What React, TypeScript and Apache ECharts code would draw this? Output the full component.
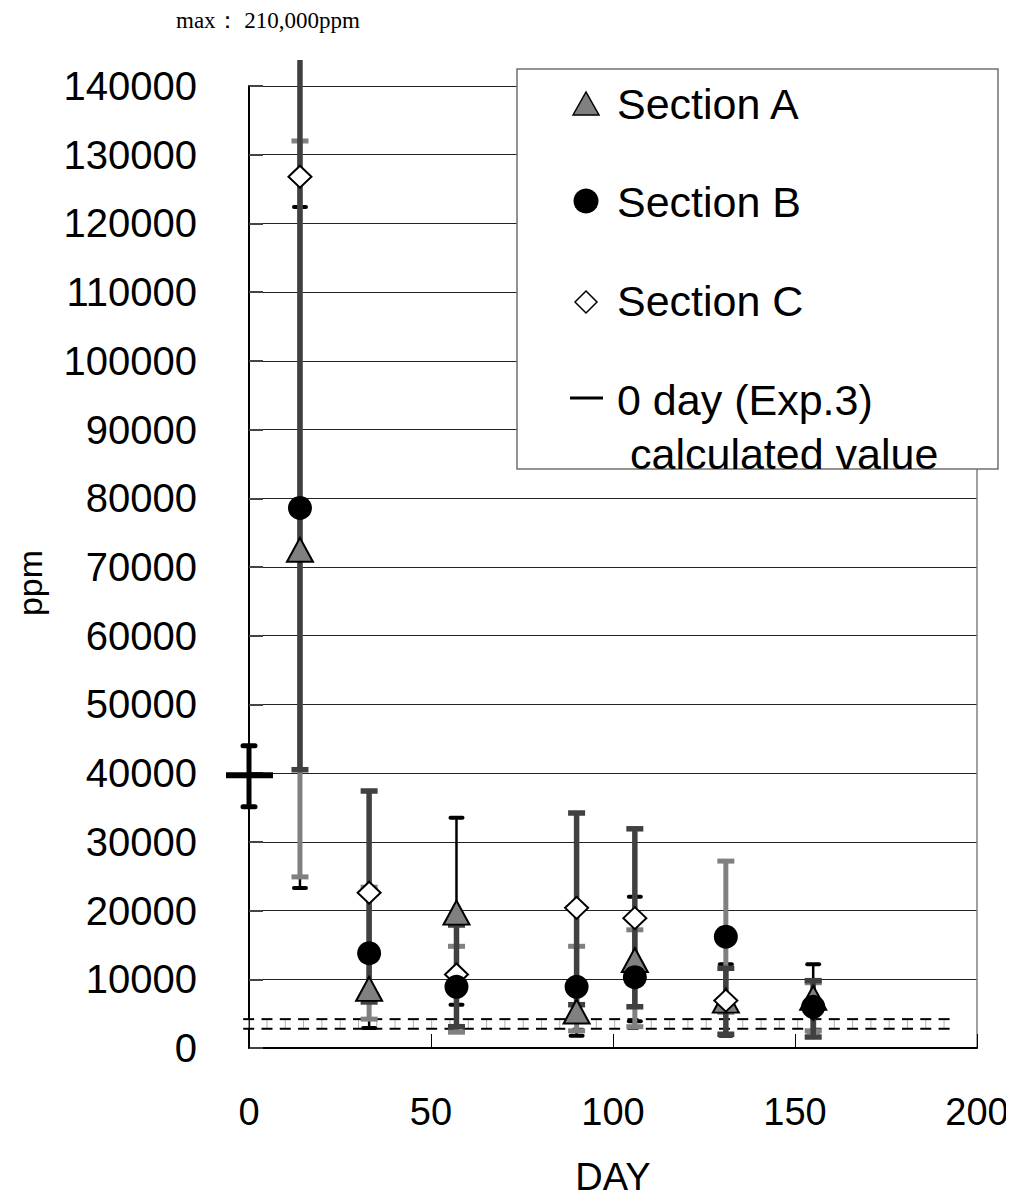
import React, { useEffect, useRef } from "react";
import * as echarts from "echarts";

// ---- data ----
const days = [14, 33, 57, 90, 106, 131, 155];

const sectionA = [72500, 8600, 19700, 5300, 12800, 6900, 7300];
const sectionALow = [23300, 2900, 6300, 1800, 3900, 1800, 2400];
const sectionAHigh = [122400, 14100, 33500, 8800, 22000, 12200, 12200];

const sectionB = [78600, 13800, 8900, 8900, 10300, 16200, 6000];
const sectionBLow = [24900, 4200, 2300, 2500, 3100, 5200, 2500];
const sectionBHigh = [132000, 23400, 14800, 14800, 17200, 27200, 9500];

const sectionC = [126800, 22600, 10700, 20400, 18900, 6900, 5700];
const sectionCLow = [40500, 6700, 3100, 6300, 6000, 2000, 1600];
const sectionCHigh = [210000, 37400, 17900, 34200, 31900, 11600, 9800];

const day0Day = [0];
const day0Value = [39700];
const day0Low = [35100];
const day0High = [44000];

const limitLines = [4200, 2800];
const limitRange = [-1.6, 197];

const yMax = 140000;
const yInterval = 10000;
const xMax = 200;
const xInterval = 50;

const FONT = "Liberation Sans";

function errRender(color: string, lw: number, capW: number, capLw: number, round: boolean) {
  return (params: any, api: any) => {
    const x = api.value(0);
    const lo = api.value(1);
    const hi = api.value(2);
    const pLo = api.coord([x, lo]);
    const pHi = api.coord([x, hi]);
    const cs = params.coordSys;
    const topLimit = cs.y - 26;
    let hiY = pHi[1];
    let clipped = false;
    if (hiY < topLimit) {
      hiY = topLimit;
      clipped = true;
    }
    const cap = round ? "round" : "butt";
    const children: any[] = [
      {
        type: "line",
        shape: { x1: pLo[0], y1: pLo[1], x2: pLo[0], y2: hiY },
        style: { stroke: color, lineWidth: lw },
      },
      {
        type: "line",
        shape: { x1: pLo[0] - capW / 2, y1: pLo[1], x2: pLo[0] + capW / 2, y2: pLo[1] },
        style: { stroke: color, lineWidth: capLw, lineCap: cap },
      },
    ];
    if (!clipped) {
      children.push({
        type: "line",
        shape: { x1: pLo[0] - capW / 2, y1: hiY, x2: pLo[0] + capW / 2, y2: hiY },
        style: { stroke: color, lineWidth: capLw, lineCap: cap },
      });
    }
    return { type: "group", children };
  };
}

function crossRender(params: any, api: any) {
  const x = api.value(0);
  const v = api.value(1);
  const lo = api.value(2);
  const hi = api.value(3);
  const pV = api.coord([x, v]);
  const pLo = api.coord([x, lo]);
  const pHi = api.coord([x, hi]);
  return {
    type: "group",
    children: [
      { type: "line", shape: { x1: pV[0], y1: pLo[1], x2: pV[0], y2: pHi[1] }, style: { stroke: "#000", lineWidth: 5 } },
      { type: "line", shape: { x1: pV[0] - 6, y1: pLo[1], x2: pV[0] + 6, y2: pLo[1] }, style: { stroke: "#000", lineWidth: 5, lineCap: "round" } },
      { type: "line", shape: { x1: pV[0] - 6, y1: pHi[1], x2: pV[0] + 6, y2: pHi[1] }, style: { stroke: "#000", lineWidth: 5, lineCap: "round" } },
      { type: "line", shape: { x1: pV[0] - 23, y1: pV[1], x2: pV[0] + 24, y2: pV[1] }, style: { stroke: "#000", lineWidth: 6 } },
    ],
  };
}

function limitRender(params: any, api: any) {
  const x0 = api.value(0);
  const x1 = api.value(1);
  const y1 = api.value(2);
  const y2 = api.value(3);
  const a = api.coord([x0, y1]);
  const b = api.coord([x1, y1]);
  const c = api.coord([x0, y2]);
  const children: any[] = [];
  const step = 18.3;
  const dash = 11;
  for (let px = a[0]; px + dash <= b[0] + 1; px += step) {
    children.push({ type: "line", shape: { x1: px + dash / 2, y1: a[1], x2: px + dash / 2, y2: c[1] }, style: { stroke: "#b0b0b0", lineWidth: 1 } });
    children.push({ type: "line", shape: { x1: px, y1: a[1], x2: px + dash, y2: a[1] }, style: { stroke: "#000", lineWidth: 2 } });
    children.push({ type: "line", shape: { x1: px, y1: c[1], x2: px + dash, y2: c[1] }, style: { stroke: "#000", lineWidth: 2 } });
  }
  return { type: "group", children };
}

const toPairs = (xs: number[], ys: number[]) => xs.map((x, i) => [x, ys[i]]);
const toErr = (xs: number[], lo: number[], hi: number[]) => xs.map((x, i) => [x, lo[i], hi[i]]);

export default function App() {
  const ref = useRef<HTMLDivElement>(null);
  useEffect(() => {
    if (!ref.current) return;
    const chart = echarts.init(ref.current, undefined, { renderer: "svg" });
    const legendX = 517;
    const legendY = 69;
    const LZ = 100;
    const option: any = {
      animation: false,
      backgroundColor: "#fff",
      grid: { left: 249, right: 37, top: 86, bottom: 150, containLabel: false, outerBoundsMode: "none" },
      xAxis: {
        type: "value",
        min: 0,
        max: xMax,
        interval: xInterval,
        name: "DAY",
        nameLocation: "middle",
        nameGap: 110,
        nameTextStyle: { fontSize: 38, fontFamily: FONT, color: "#000" },
        axisLine: { lineStyle: { color: "#000", width: 2 } },
        axisTick: { inside: true, length: 14, lineStyle: { color: "#000", width: 1 } },
        axisLabel: { fontSize: 38, fontFamily: FONT, color: "#000", margin: 45 },
        splitLine: { show: false },
      },
      yAxis: [
        {
          type: "value",
          min: 0,
          max: yMax,
          interval: yInterval,
          axisLine: { lineStyle: { color: "#000", width: 2 } },
          axisTick: { inside: true, length: 14, lineStyle: { color: "#444", width: 2 } },
          axisLabel: {
            fontSize: 40,
            fontFamily: FONT,
            color: "#000",
            margin: 52,
            formatter: (v: number) => String(v),
          },
          splitLine: { show: true, lineStyle: { color: "#222", width: 1 } },
        },
        {
          type: "value",
          min: 0,
          max: yMax,
          interval: yInterval,
          position: "right",
          axisLine: { show: true, lineStyle: { color: "#808080", width: 1.5 } },
          axisTick: { show: false },
          axisLabel: { show: false },
          splitLine: { show: false },
        },
      ],
      series: [
        {
          type: "custom",
          name: "limits",
          coordinateSystem: "cartesian2d",
          clip: false,
          silent: true,
          renderItem: limitRender,
          data: [[limitRange[0], limitRange[1], limitLines[0], limitLines[1]]],
          encode: { x: [0, 1], y: [2, 3] },
          z: 1,
        },
        {
          type: "custom",
          name: "errA",
          coordinateSystem: "cartesian2d",
          clip: false,
          renderItem: errRender("#000", 2.5, 12, 4, true),
          data: toErr(days, sectionALow, sectionAHigh),
          encode: { x: 0, y: [1, 2] },
          z: 2,
        },
        {
          type: "custom",
          name: "errB",
          coordinateSystem: "cartesian2d",
          clip: false,
          renderItem: errRender("#808080", 5, 17, 5, false),
          data: toErr(days, sectionBLow, sectionBHigh),
          encode: { x: 0, y: [1, 2] },
          z: 3,
        },
        {
          type: "custom",
          name: "errC",
          coordinateSystem: "cartesian2d",
          clip: false,
          renderItem: errRender("#404040", 5.5, 17, 5.5, false),
          data: toErr(days, sectionCLow, sectionCHigh),
          encode: { x: 0, y: [1, 2] },
          z: 4,
        },
        {
          type: "custom",
          name: "0 day (Exp.3) calculated value",
          coordinateSystem: "cartesian2d",
          clip: false,
          renderItem: crossRender,
          data: day0Day.map((d, i) => [d, day0Value[i], day0Low[i], day0High[i]]),
          encode: { x: 0, y: [1, 2, 3] },
          z: 5,
        },
        {
          type: "scatter",
          name: "Section A",
          symbol: "triangle",
          symbolSize: [26, 24],
          clip: false,
          itemStyle: { color: "#808080", borderColor: "#000", borderWidth: 2, opacity: 1 },
          data: toPairs(days, sectionA),
          z: 6,
        },
        {
          type: "scatter",
          name: "Section C",
          symbol: "diamond",
          symbolSize: [23, 22],
          clip: false,
          itemStyle: { color: "#fff", borderColor: "#000", borderWidth: 2, opacity: 1 },
          data: toPairs(days, sectionC),
          z: 7,
        },
        {
          type: "scatter",
          name: "Section B",
          symbol: "circle",
          symbolSize: 24,
          clip: false,
          itemStyle: { color: "#000", opacity: 1 },
          data: toPairs(days, sectionB),
          z: 8,
        },
      ],
      graphic: [
        {
          type: "text",
          left: 176,
          top: 9,
          z: LZ,
          style: {
            text: "max： 210,000ppm",
            fontSize: 23,
            fontFamily: "Liberation Serif",
            fill: "#000",
          },
        },
        {
          type: "text",
          x: 30,
          y: 583,
          rotation: Math.PI / 2,
          z: LZ,
          style: {
            text: "ppm",
            fontSize: 34,
            fontFamily: FONT,
            fill: "#000",
            align: "center",
            verticalAlign: "middle",
          },
        },
        {
          type: "rect",
          z: LZ,
          shape: { x: legendX, y: legendY, width: 481, height: 400 },
          style: { fill: "#fff", stroke: "#707070", lineWidth: 1.5 },
        },
        {
          type: "polygon",
          z: LZ + 1,
          shape: { points: [[573, 115], [586, 92], [599, 115]] },
          style: { fill: "#808080", stroke: "#000", lineWidth: 1.5 },
        },
        {
          type: "text",
          z: LZ + 1,
          x: 617,
          y: 104,
          style: { text: "Section A", fontSize: 43, fontFamily: FONT, fill: "#000", verticalAlign: "middle" },
        },
        {
          type: "circle",
          z: LZ + 1,
          shape: { cx: 586, cy: 201, r: 12.5 },
          style: { fill: "#000" },
        },
        {
          type: "text",
          z: LZ + 1,
          x: 617,
          y: 202,
          style: { text: "Section B", fontSize: 43, fontFamily: FONT, fill: "#000", verticalAlign: "middle" },
        },
        {
          type: "polygon",
          z: LZ + 1,
          shape: { points: [[586, 291], [597, 302], [586, 313], [575, 302]] },
          style: { fill: "#fff", stroke: "#000", lineWidth: 1.5 },
        },
        {
          type: "text",
          z: LZ + 1,
          x: 617,
          y: 301,
          style: { text: "Section C", fontSize: 43, fontFamily: FONT, fill: "#000", verticalAlign: "middle" },
        },
        {
          type: "line",
          z: LZ + 1,
          shape: { x1: 570, y1: 398, x2: 603, y2: 398 },
          style: { stroke: "#000", lineWidth: 3 },
        },
        {
          type: "text",
          z: LZ + 1,
          x: 617,
          y: 400,
          style: { text: "0 day (Exp.3)", fontSize: 43, fontFamily: FONT, fill: "#000", verticalAlign: "middle" },
        },
        {
          type: "text",
          z: LZ + 1,
          x: 630,
          y: 454,
          style: { text: "calculated value", fontSize: 43, fontFamily: FONT, fill: "#000", verticalAlign: "middle" },
        },
      ],
    };
    chart.setOption(option);
    return () => chart.dispose();
  }, []);
  return <div ref={ref} style={{ width: 1014, height: 1198, margin: -8 }} />;
}
